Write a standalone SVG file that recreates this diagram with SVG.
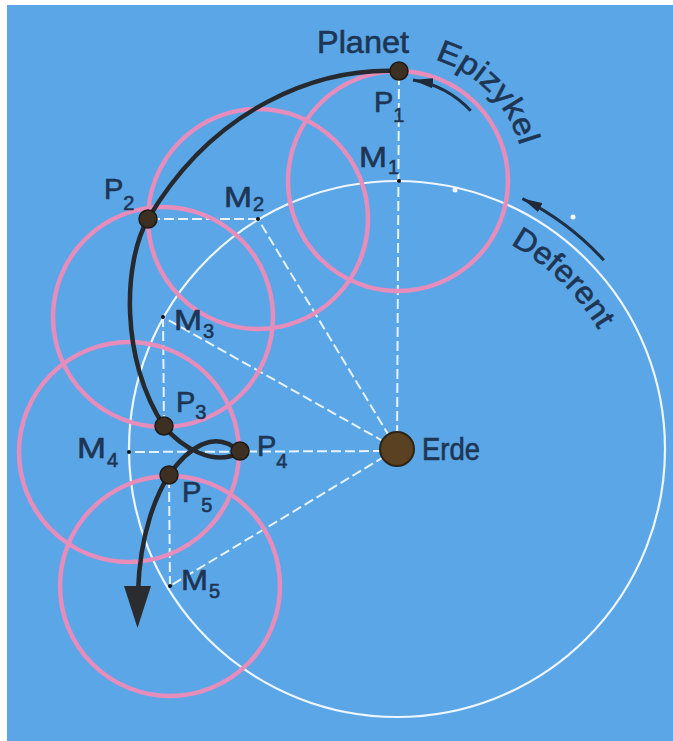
<svg xmlns="http://www.w3.org/2000/svg" width="673" height="741" viewBox="0 0 673 741">
<style>
.bg{fill:#5ba6e7}
.def{fill:none;stroke:#eef6ff;stroke-width:2.2}
.dash{fill:none;stroke:#e8f3ff;stroke-width:2;stroke-dasharray:10 4}
.epi{fill:none;stroke:#e68dbb;stroke-width:4.5}
.path{fill:none;stroke:#26292d;stroke-width:4.5;stroke-linecap:round}
.arr{fill:none;stroke:#1f2f45;stroke-width:3}
.pdot{fill:#3d3022;stroke:#1e1a15;stroke-width:1.5}
.mdot{fill:#111}
.lbl{font-family:"Liberation Sans",Arial,sans-serif;font-size:29px;fill:#1e3554;stroke:#1e3554;stroke-width:0.6}
.sub{font-size:20px}
.big{font-size:31px}
</style>
<defs>
<marker id="ahSmall" viewBox="0 0 20 10" refX="20" refY="5" markerWidth="20" markerHeight="10" markerUnits="userSpaceOnUse" orient="auto">
<path d="M0,0 L20,5 L0,10 Z" fill="#1f2a38"/>
</marker>
<path id="epiText" d="M435,59.5 A127,127 0 0,1 523,159"/>
<path id="defText" d="M510.4,244.3 A234,234 0 0,1 616.9,369"/>
</defs>
<rect width="673" height="741" fill="#ffffff"/>
<rect class="bg" x="7" y="5" width="666" height="736"/>
<g id="deferent">
<circle class="def" cx="397" cy="449" r="268"/>
</g>
<g id="connectors">
<line class="dash" x1="397" y1="449" x2="399" y2="71"/>
<line class="dash" x1="397" y1="449" x2="258" y2="219"/>
<line class="dash" x1="258" y1="219" x2="148" y2="219"/>
<line class="dash" x1="397" y1="449" x2="163" y2="317"/>
<line class="dash" x1="163" y1="317" x2="164" y2="426"/>
<line class="dash" x1="397" y1="451" x2="129" y2="452"/>
<line class="dash" x1="397" y1="449" x2="170" y2="586"/>
<line class="dash" x1="170" y1="586" x2="169" y2="475"/>
</g>
<g id="epicycles">
<circle class="epi" cx="398" cy="181" r="110"/>
<circle class="epi" cx="258" cy="219" r="110"/>
<circle class="epi" cx="163" cy="317" r="110"/>
<circle class="epi" cx="129" cy="452" r="110"/>
<circle class="epi" cx="170" cy="586" r="110"/>
</g>
<g id="motion-arrows">
<path class="arr" d="M470.7,110.8 A101,101 0 0,0 413,80" marker-end="url(#ahSmall)"/>
<path class="arr" d="M603.8,260.2 A280,280 0 0,0 522.4,198.6" marker-end="url(#ahSmall)"/>
</g>
<g id="planet-path">
<path class="path" d="M398,71 C320,68 215,105 148,219 C123,262 120,360 164,426 C180,446 214,468 240,452 C215,428 188,448 169,475 C158,492 140,530 138,592"/>
<polygon points="124,586 151,586 137.5,628" fill="#2a2c30"/>
</g>
<g id="marks">
<circle cx="455" cy="190" r="2.5" fill="#f2f8ff"/>
<circle cx="573" cy="217" r="2.5" fill="#f2f8ff"/>
</g>
<g id="M1"><circle class="mdot" cx="399" cy="181" r="2"/><text class="lbl" x="359" y="167"><tspan textLength="28" lengthAdjust="spacingAndGlyphs">M</tspan><tspan class="sub" x="388" y="174">1</tspan></text></g>
<g id="M2"><circle class="mdot" cx="258" cy="219" r="2"/><text class="lbl" x="224" y="207"><tspan textLength="28" lengthAdjust="spacingAndGlyphs">M</tspan><tspan class="sub" x="253" y="211">2</tspan></text></g>
<g id="M3"><circle class="mdot" cx="163" cy="317" r="2"/><text class="lbl" x="174" y="330"><tspan textLength="28" lengthAdjust="spacingAndGlyphs">M</tspan><tspan class="sub" x="203" y="338">3</tspan></text></g>
<g id="M4"><circle class="mdot" cx="129" cy="452" r="2"/><text class="lbl" x="77" y="458"><tspan textLength="29" lengthAdjust="spacingAndGlyphs">M</tspan><tspan class="sub" x="107" y="467">4</tspan></text></g>
<g id="M5"><circle class="mdot" cx="170" cy="586" r="2"/><text class="lbl" x="181" y="590"><tspan textLength="27" lengthAdjust="spacingAndGlyphs">M</tspan><tspan class="sub" x="209" y="598">5</tspan></text></g>
<g id="P1"><circle class="pdot" cx="399" cy="71" r="9"/><text class="lbl" x="374" y="112">P<tspan class="sub" dy="10">1</tspan></text></g>
<g id="P2"><circle class="pdot" cx="148" cy="219" r="9"/><text class="lbl" x="104" y="199">P<tspan class="sub" dy="11">2</tspan></text></g>
<g id="P3"><circle class="pdot" cx="164" cy="426" r="9"/><text class="lbl" x="176" y="412">P<tspan class="sub" dy="7">3</tspan></text></g>
<g id="P4"><circle class="pdot" cx="240" cy="451" r="9"/><text class="lbl" x="257" y="456">P<tspan class="sub" dy="12">4</tspan></text></g>
<g id="P5"><circle class="pdot" cx="169" cy="475" r="9"/><text class="lbl" x="182" y="502">P<tspan class="sub" dy="10">5</tspan></text></g>
<g id="erde"><circle cx="397" cy="449" r="17" fill="#5a4121" stroke="#2e2415" stroke-width="2"/><text class="lbl big" x="422" y="460" textLength="58" lengthAdjust="spacingAndGlyphs">Erde</text></g>
<g id="planet-label"><text class="lbl big" x="317" y="53" textLength="92" lengthAdjust="spacingAndGlyphs">Planet</text></g>
<g id="epizykel-label"><text class="lbl big"><textPath href="#epiText" textLength="126" lengthAdjust="spacingAndGlyphs">Epizykel</textPath></text></g>
<g id="deferent-label"><text class="lbl big"><textPath href="#defText" textLength="124" lengthAdjust="spacingAndGlyphs">Deferent</textPath></text></g>
</svg>
